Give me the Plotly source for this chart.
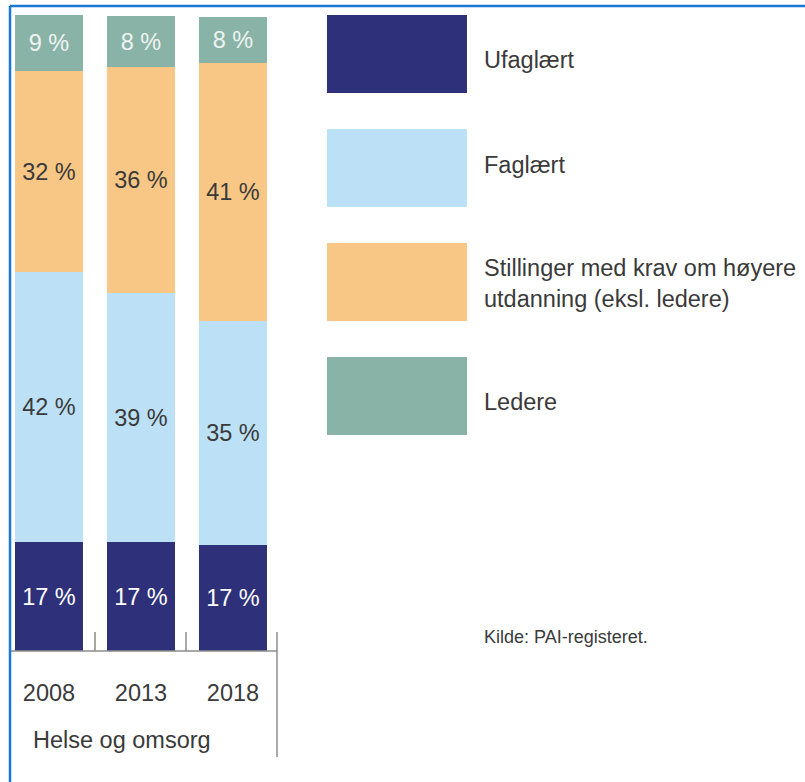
import plotly.graph_objects as go

# ---- data ----
years = ["2008", "2013", "2018"]
series_names = ["Ufaglært", "Faglært", "Stillinger med krav om høyere<br>utdanning (eksl. ledere)", "Ledere"]
ufaglaert = [17.2, 17.2, 16.7]
faglaert = [42.4, 39.1, 35.2]
hoyere = [31.6, 35.6, 40.6]
ledere = [8.8, 7.9, 7.2]
ufaglaert_lbl = ["17 %", "17 %", "17 %"]
faglaert_lbl = ["42 %", "39 %", "35 %"]
hoyere_lbl = ["32 %", "36 %", "41 %"]
ledere_lbl = ["9 %", "8 %", "8 %"]
group_label = "Helse og omsorg"
source = "Kilde: PAI-registeret."

# ---- style ----
W, H = 805, 782
colors = ["#2e307a", "#bce1f6", "#f8c785", "#8ab3a7"]
text_colors = ["#ffffff", "#3a3a3a", "#3a3a3a", "#eef3f1"]
FONT = "Liberation Sans, Arial, sans-serif"
TXT = "#3a3a3a"

# pixel geometry helpers (plot area == full figure)
X0, DX = 49, 92        # px center of first bar, px between bars
Y0, DY = 651, 6.36     # px of baseline, px per percentage point
def xd(px): return (px - X0) / DX
def yd(py): return (Y0 - py) / DY
def xp(px): return px / W
def yp(py): return 1 - py / H

fig = go.Figure()
xs = [0, 1, 2]
for vals, lbls, name, c, tc in zip(
        [ufaglaert, faglaert, hoyere, ledere],
        [ufaglaert_lbl, faglaert_lbl, hoyere_lbl, ledere_lbl],
        series_names, colors, text_colors):
    fig.add_trace(go.Bar(
        x=xs, y=vals, name=name, text=lbls,
        textposition="inside", insidetextanchor="middle",
        textangle=0,
        insidetextfont=dict(family=FONT, size=23.5, color=tc),
        marker=dict(color=c, line=dict(width=0)),
        width=68 / DX, showlegend=False, hoverinfo="skip",
    ))

shapes = []
axis_col = "#8c8c8c"
# baseline
shapes.append(dict(type="line", xref="x", yref="y", x0=xd(10), x1=xd(277), y0=0, y1=0,
                   line=dict(color=axis_col, width=1.5)))
# category dividers
for px in (95, 186):
    shapes.append(dict(type="line", xref="x", yref="y", x0=xd(px), x1=xd(px), y0=0, y1=yd(632),
                       line=dict(color=axis_col, width=1.5)))
shapes.append(dict(type="line", xref="x", yref="y", x0=xd(277), x1=xd(277), y0=yd(757), y1=yd(632),
                   line=dict(color=axis_col, width=1.5)))

# legend boxes
box_tops = [15, 129, 243, 357]
for top, c in zip(box_tops, colors):
    shapes.append(dict(type="rect", xref="paper", yref="paper",
                       x0=xp(327), x1=xp(467), y0=yp(top), y1=yp(top + 78),
                       fillcolor=c, line=dict(width=0), layer="below"))

# blue frame
frame = "#1a78d3"
shapes.append(dict(type="line", xref="paper", yref="paper", x0=xp(10), x1=1, y0=yp(6), y1=yp(6),
                   line=dict(color=frame, width=2.5)))
shapes.append(dict(type="line", xref="paper", yref="paper", x0=xp(10), x1=xp(10), y0=yp(6), y1=0,
                   line=dict(color=frame, width=2.5)))

annotations = []
legend_y = [60, 165, 283, 402]
for name, py in zip(series_names, legend_y):
    annotations.append(dict(text=name, xref="paper", yref="paper", x=xp(482), y=yp(py),
                            xanchor="left", yanchor="middle", align="left", showarrow=False,
                            font=dict(family=FONT, size=23.5, color=TXT)))
annotations.append(dict(text=source, xref="paper", yref="paper", x=xp(482), y=yp(637),
                        xanchor="left", yanchor="middle", showarrow=False,
                        font=dict(family=FONT, size=18, color=TXT)))
annotations.append(dict(text=group_label, xref="paper", yref="paper", x=xp(31), y=yp(740),
                        xanchor="left", yanchor="middle", showarrow=False,
                        font=dict(family=FONT, size=23.5, color=TXT)))

fig.update_layout(
    width=W, height=H, barmode="stack", bargap=0,
    margin=dict(l=0, r=0, t=0, b=0),
    paper_bgcolor="white", plot_bgcolor="white",
    xaxis=dict(range=[xd(0), xd(W)], tickvals=xs, ticktext=years,
               showgrid=False, zeroline=False, showline=False, ticks="",
               anchor="free", position=yp(Y0), ticklabelstandoff=25,
               tickfont=dict(family=FONT, size=23.5, color=TXT)),
    yaxis=dict(range=[yd(H), yd(0)], visible=False, showgrid=False, zeroline=False),
    shapes=shapes, annotations=annotations,
)

fig.write_html("out.html", config={"displayModeBar": False},
               post_script="document.body.style.margin='0';document.body.style.overflow='hidden';")
